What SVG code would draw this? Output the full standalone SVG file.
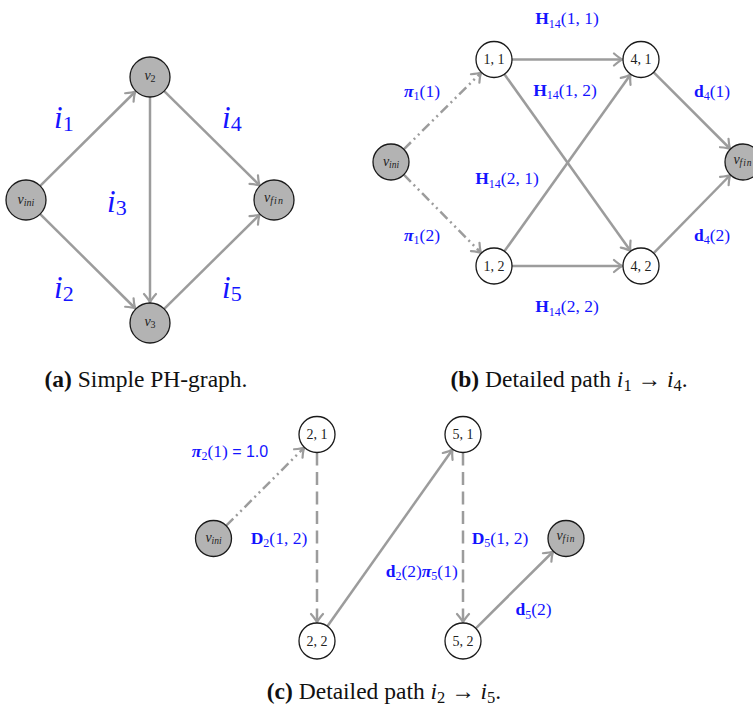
<svg xmlns="http://www.w3.org/2000/svg" width="753" height="707" viewBox="0 0 753 707">
<style>
.e{fill:none;stroke:#9c9c9c;stroke-width:2.5;marker-end:url(#ah)}
.dd{stroke-dasharray:10 4 2 4 2 4}
.da{stroke-dasharray:13 6.5}
.g{fill:#b3b3b3;stroke:#1a1a1a;stroke-width:1.3}
.w{fill:#fff;stroke:#1a1a1a;stroke-width:1.3}
.nt{font-family:"Liberation Serif","Times New Roman",serif;font-size:14px;fill:#222;text-anchor:middle}
.vi{font-style:italic}
.big{font-family:"Liberation Serif","Times New Roman",serif;font-size:31px;fill:#1414ff}
.lb{font-family:"Liberation Serif","Times New Roman",serif;font-size:17.5px;fill:#1414ff;text-anchor:middle}
.cap{font-family:"Liberation Serif","Times New Roman",serif;font-size:23.5px;fill:#111;text-anchor:middle}
.b{font-weight:bold}
.bi{font-weight:bold;font-style:italic}
.it{font-style:italic}
</style>
<defs>
<marker id="ah" viewBox="-11 -8 13 16" markerWidth="13" markerHeight="16" refX="0" refY="0" orient="auto" markerUnits="userSpaceOnUse">
<path d="M-8.5,-6 Q-3,-1.2 0,0 Q-3,1.2 -8.5,6" fill="none" stroke="#9c9c9c" stroke-width="2.2" stroke-linecap="round" stroke-dasharray="none"/>
</marker>
</defs>

<g id="connectors">
<line class="e" x1="40.2" y1="185.9" x2="135.4" y2="91.5"/>
<line class="e" x1="40.2" y1="214.1" x2="135.4" y2="308.5"/>
<line class="e" x1="150" y1="97" x2="150" y2="302.5"/>
<line class="e" x1="164.2" y1="91.1" x2="259.8" y2="185.6"/>
<line class="e" x1="164.2" y1="308.9" x2="259.8" y2="214.4"/>
<line class="e dd" x1="403.8" y1="149.3" x2="481.2" y2="72.5"/>
<line class="e dd" x1="403.8" y1="174.7" x2="481.2" y2="253"/>
<line class="e" x1="512" y1="59.5" x2="622.5" y2="59.5"/>
<line class="e" x1="504.4" y1="74.2" x2="630.6" y2="251"/>
<line class="e" x1="504.4" y1="251.3" x2="630.6" y2="74.5"/>
<line class="e" x1="512" y1="266" x2="622.5" y2="266"/>
<line class="e" x1="653.7" y1="72.3" x2="730.3" y2="149"/>
<line class="e" x1="653.7" y1="253.2" x2="730.3" y2="175"/>
<line class="e dd" x1="226.2" y1="525.7" x2="304.3" y2="447.5"/>
<line class="e da" x1="317" y1="452.5" x2="317" y2="622.5"/>
<line class="e" x1="327.4" y1="626.3" x2="452.6" y2="449.5"/>
<line class="e da" x1="463" y1="452.5" x2="463" y2="622.5"/>
<line class="e" x1="475.8" y1="628.3" x2="553.2" y2="551.5"/>
</g>

<g id="a_vini"><circle class="g" cx="26" cy="200" r="20"/><text class="nt" x="26" y="203.5"><tspan class="vi">v</tspan><tspan class="vi" font-size="10" dy="2">ini</tspan></text></g>
<g id="a_v2"><circle class="g" cx="150" cy="77" r="20"/><text class="nt" x="150" y="79.5"><tspan class="vi">v</tspan><tspan font-size="10" dy="2">2</tspan></text></g>
<g id="a_v3"><circle class="g" cx="150" cy="323" r="20"/><text class="nt" x="150" y="325.5"><tspan class="vi">v</tspan><tspan font-size="10" dy="2">3</tspan></text></g>
<g id="a_vfin"><circle class="g" cx="274" cy="200" r="20"/><text class="nt" x="274" y="201.5"><tspan class="vi">v</tspan><tspan class="vi" font-size="10" dy="2" letter-spacing="1">fin</tspan></text></g>

<g id="a_labels">
<text class="big" x="54" y="128"><tspan class="it">i</tspan><tspan font-size="22" dy="3">1</tspan></text>
<text class="big" x="107" y="211.5"><tspan class="it">i</tspan><tspan font-size="22" dy="3">3</tspan></text>
<text class="big" x="222" y="128"><tspan class="it">i</tspan><tspan font-size="22" dy="3">4</tspan></text>
<text class="big" x="54" y="298"><tspan class="it">i</tspan><tspan font-size="22" dy="3">2</tspan></text>
<text class="big" x="222" y="298"><tspan class="it">i</tspan><tspan font-size="22" dy="3">5</tspan></text>
</g>

<g id="b_vini"><circle class="g" cx="391" cy="162" r="18"/><text class="nt" x="391" y="165.5" font-size="13"><tspan class="vi">v</tspan><tspan class="vi" font-size="9.5" dy="2">ini</tspan></text></g>
<g id="b_11"><circle class="w" cx="494" cy="59.5" r="18"/><text class="nt" x="494" y="64.3">1, 1</text></g>
<g id="b_41"><circle class="w" cx="641" cy="59.5" r="18"/><text class="nt" x="641" y="64.3">4, 1</text></g>
<g id="b_12"><circle class="w" cx="494" cy="266" r="18"/><text class="nt" x="494" y="270.8">1, 2</text></g>
<g id="b_42"><circle class="w" cx="641" cy="266" r="18"/><text class="nt" x="641" y="270.8">4, 2</text></g>
<g id="b_vfin"><circle class="g" cx="743" cy="162" r="18"/><text class="nt" x="743" y="163.5" font-size="13"><tspan class="vi">v</tspan><tspan class="vi" font-size="9.5" dy="2" letter-spacing="1">fin</tspan></text></g>

<g id="b_labels">
<text class="lb" x="567" y="24"><tspan class="b">H</tspan><tspan font-size="12" dy="3.5">14</tspan><tspan dy="-3.5">(1, 1)</tspan></text>
<text class="lb" x="565" y="95.7"><tspan class="b">H</tspan><tspan font-size="12" dy="3.5">14</tspan><tspan dy="-3.5">(1, 2)</tspan></text>
<text class="lb" x="507" y="184"><tspan class="b">H</tspan><tspan font-size="12" dy="3.5">14</tspan><tspan dy="-3.5">(2, 1)</tspan></text>
<text class="lb" x="567" y="312.3"><tspan class="b">H</tspan><tspan font-size="12" dy="3.5">14</tspan><tspan dy="-3.5">(2, 2)</tspan></text>
<text class="lb" x="422" y="96.7"><tspan class="bi">π</tspan><tspan font-size="12" dy="3.5">1</tspan><tspan dy="-3.5">(1)</tspan></text>
<text class="lb" x="422" y="240.5"><tspan class="bi">π</tspan><tspan font-size="12" dy="3.5">1</tspan><tspan dy="-3.5">(2)</tspan></text>
<text class="lb" x="712" y="96.7"><tspan class="b">d</tspan><tspan font-size="12" dy="3.5">4</tspan><tspan dy="-3.5">(1)</tspan></text>
<text class="lb" x="712" y="240.5"><tspan class="b">d</tspan><tspan font-size="12" dy="3.5">4</tspan><tspan dy="-3.5">(2)</tspan></text>
</g>

<g id="c_vini"><circle class="g" cx="213.5" cy="538.5" r="18"/><text class="nt" x="213.5" y="542" font-size="13"><tspan class="vi">v</tspan><tspan class="vi" font-size="9.5" dy="2">ini</tspan></text></g>
<g id="c_21"><circle class="w" cx="317" cy="434.5" r="18"/><text class="nt" x="317" y="439.3">2, 1</text></g>
<g id="c_22"><circle class="w" cx="317" cy="641" r="18"/><text class="nt" x="317" y="645.8">2, 2</text></g>
<g id="c_51"><circle class="w" cx="463" cy="434.5" r="18"/><text class="nt" x="463" y="439.3">5, 1</text></g>
<g id="c_52"><circle class="w" cx="463" cy="641" r="18"/><text class="nt" x="463" y="645.8">5, 2</text></g>
<g id="c_vfin"><circle class="g" cx="566" cy="538.5" r="18"/><text class="nt" x="566" y="540" font-size="13"><tspan class="vi">v</tspan><tspan class="vi" font-size="9.5" dy="2" letter-spacing="1">fin</tspan></text></g>

<g id="c_labels">
<text class="lb" x="230" y="456.7"><tspan class="bi">π</tspan><tspan font-size="12" dy="3.5">2</tspan><tspan dy="-3.5">(1) </tspan><tspan font-family="Liberation Sans,Arial,sans-serif" font-size="16">= 1.0</tspan></text>
<text class="lb" x="279" y="543.5"><tspan class="b">D</tspan><tspan font-size="12" dy="3.5">2</tspan><tspan dy="-3.5">(1, 2)</tspan></text>
<text class="lb" x="500" y="543.5"><tspan class="b">D</tspan><tspan font-size="12" dy="3.5">5</tspan><tspan dy="-3.5">(1, 2)</tspan></text>
<text class="lb" x="421.7" y="576.7"><tspan class="b">d</tspan><tspan font-size="12" dy="3.5">2</tspan><tspan dy="-3.5">(2)</tspan><tspan class="bi">π</tspan><tspan font-size="12" dy="3.5">5</tspan><tspan dy="-3.5">(1)</tspan></text>
<text class="lb" x="533.5" y="615"><tspan class="b">d</tspan><tspan font-size="12" dy="3.5">5</tspan><tspan dy="-3.5">(2)</tspan></text>
</g>

<g id="captions">
<text class="cap" x="146" y="387"><tspan class="b">(a)</tspan> Simple PH-graph.</text>
<text class="cap" x="569" y="387"><tspan class="b">(b)</tspan> Detailed path <tspan class="it">i</tspan><tspan font-size="16.5" dy="3.5">1</tspan><tspan dy="-3.5"> → </tspan><tspan class="it">i</tspan><tspan font-size="16.5" dy="3.5">4</tspan><tspan dy="-3.5">.</tspan></text>
<text class="cap" x="384" y="699"><tspan class="b">(c)</tspan> Detailed path <tspan class="it">i</tspan><tspan font-size="16.5" dy="3.5">2</tspan><tspan dy="-3.5"> → </tspan><tspan class="it">i</tspan><tspan font-size="16.5" dy="3.5">5</tspan><tspan dy="-3.5">.</tspan></text>
</g>
</svg>
